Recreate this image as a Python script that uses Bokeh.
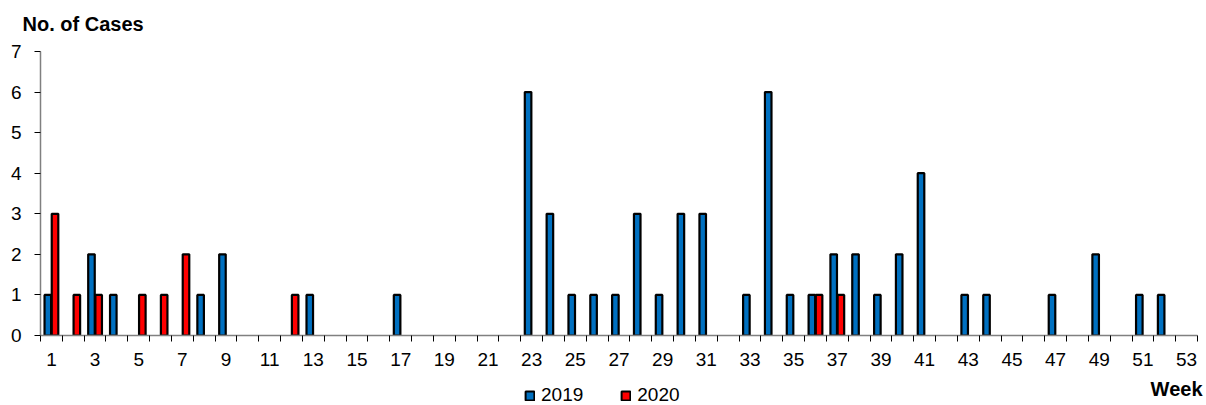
from bokeh.plotting import figure
from bokeh.layouts import column
from bokeh.models import Range1d, FixedTicker, Legend, LegendItem, Label, ColumnDataSource
from bokeh.embed import file_html
from bokeh.resources import INLINE

weeks_2019 = [1, 3, 4, 8, 9, 13, 17, 23, 24, 25, 26, 27, 28, 29, 30, 31, 33, 34, 35, 36, 37, 38, 39, 40, 41, 43, 44, 47, 49, 51, 52]
cases_2019 = [1, 2, 1, 1, 2, 1, 1, 6, 3, 1, 1, 1, 3, 1, 3, 3, 1, 6, 1, 1, 2, 2, 1, 2, 4, 1, 1, 1, 2, 1, 1]
weeks_2020 = [1, 2, 3, 5, 6, 7, 12, 36, 37]
cases_2020 = [3, 1, 1, 1, 1, 2, 1, 1, 1]
series_names = ["2019", "2020"]
tick_weeks = list(range(1, 54, 2))
all_weeks = list(range(1, 54))
y_ticks = list(range(0, 8))

FONT = "Liberation Sans"
BLUE = "#0070C0"
RED = "#FF0000"
W = 1206

# ---- header (y-axis title) ----
head = figure(width=W, height=36, output_backend="svg", toolbar_location=None,
              x_range=Range1d(0, W), y_range=Range1d(0, 36),
              x_axis_location=None, y_axis_location=None,
              min_border=0, min_border_left=0, min_border_right=0, min_border_top=0, min_border_bottom=0)
head.frame_align = False
head.outline_line_color = None
head.grid.visible = False
head.add_layout(Label(x=22, y=12.5, text="No. of Cases", text_font=FONT, text_font_size="20px",
                      text_font_style="bold", text_color="black", text_baseline="middle"))

# ---- main chart ----
p = figure(width=W, height=334, output_backend="svg", toolbar_location=None,
           x_range=Range1d(0.5, 53.5), y_range=Range1d(0, 7),
           min_border_left=40, min_border_right=9, min_border_top=15, min_border_bottom=35)
p.outline_line_color = None
p.xgrid.grid_line_color = None
p.ygrid.grid_line_color = None

off = 0.165
bw = 0.3
s19 = ColumnDataSource(dict(x=[w - off for w in weeks_2019], top=cases_2019))
s20 = ColumnDataSource(dict(x=[w + off for w in weeks_2020], top=cases_2020))
r19 = p.vbar(x="x", top="top", bottom=0, width=bw, source=s19, fill_color=BLUE, line_color="black", line_width=2.2)
r20 = p.vbar(x="x", top="top", bottom=0, width=bw, source=s20, fill_color=RED, line_color="black", line_width=2.2)

xa = p.xaxis[0]
xa.ticker = FixedTicker(ticks=tick_weeks, minor_ticks=[w - 0.5 for w in all_weeks] + [53.5])
xa.major_tick_line_color = None
xa.major_tick_out = 6
xa.minor_tick_line_color = "black"
xa.minor_tick_out = 6
xa.minor_tick_in = 0
xa.axis_line_color = "#808080"
xa.axis_line_width = 1.5
xa.major_label_text_font = FONT
xa.major_label_text_font_size = "19px"
xa.major_label_text_color = "black"
xa.major_label_standoff = 11

ya = p.yaxis[0]
ya.ticker = FixedTicker(ticks=y_ticks)
ya.minor_tick_line_color = None
ya.major_tick_line_color = "black"
ya.major_tick_out = 6
ya.major_tick_in = 0
ya.axis_line_color = "#808080"
ya.axis_line_width = 1.5
ya.major_label_text_font = FONT
ya.major_label_text_font_size = "19px"
ya.major_label_text_color = "black"
ya.major_label_standoff = 13

# ---- footer (legend + x-axis title) ----
foot = figure(width=W, height=35, output_backend="svg", toolbar_location=None,
              x_range=Range1d(0, W), y_range=Range1d(0, 35),
              x_axis_location=None, y_axis_location=None,
              min_border=0, min_border_left=0, min_border_right=0, min_border_top=0, min_border_bottom=0)
foot.frame_align = False
foot.outline_line_color = None
foot.grid.visible = False
# legend swatches: same glyph styles as the chart; zero-size bars hidden under the legend swatch
d19 = foot.vbar(x=[531], top=[8], bottom=[8], width=0, fill_color=BLUE, line_color="black", line_width=2)
d20 = foot.vbar(x=[531], top=[8], bottom=[8], width=0, fill_color=RED, line_color="black", line_width=2)
foot.add_layout(Label(x=1202, y=16.5, text="Week", text_font=FONT, text_font_size="20px", text_align="right",
                      text_font_style="bold", text_color="black", text_baseline="middle"))
legend = Legend(items=[LegendItem(label=series_names[0], renderers=[d19]),
                       LegendItem(label=series_names[1], renderers=[d20])],
                orientation="horizontal", location=(524, -1), border_line_color=None, background_fill_alpha=0,
                label_text_font=FONT, label_text_font_size="19px", label_text_color="black", label_standoff=6,
                label_height=14, glyph_width=11, glyph_height=11, spacing=37, padding=0, margin=0)
foot.add_layout(legend)

layout = column(head, p, foot, spacing=0)
open("out.html", "w").write(file_html(layout, INLINE))
